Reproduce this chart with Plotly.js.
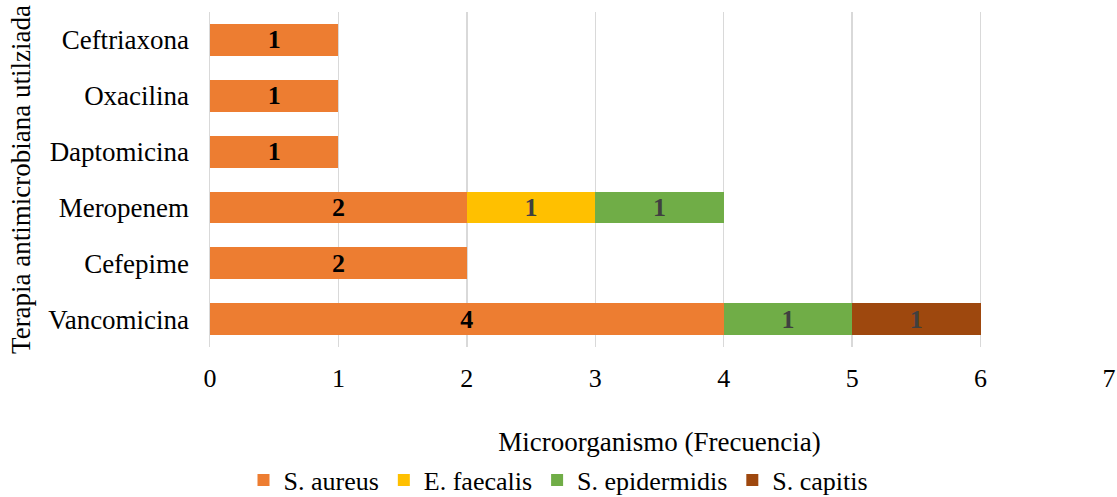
<!DOCTYPE html>
<html>
<head>
<meta charset="utf-8">
<script src="https://cdn.plot.ly/plotly-3.0.1.min.js"></script>
<style>
  html, body { margin: 0; padding: 0; background: #ffffff; }
  #chart { width: 1117px; height: 497px; }
</style>
</head>
<body>
<div id="chart"></div>
<script>
// Antibiotic therapies, listed bottom to top
const therapies = ["Vancomicina", "Cefepime", "Meropenem", "Daptomicina", "Oxacilina", "Ceftriaxona"];

// Frequency of each microorganism per therapy (null = not present)
const sAureus      = [4, 2, 2, 1, 1, 1];
const eFaecalis    = [null, null, 1, null, null, null];
const sEpidermidis = [1, null, 1, null, null, null];
const sCapitis     = [1, null, null, null, null, null];

const seriesNames  = ["S. aureus", "E. faecalis", "S. epidermidis", "S. capitis"];
const seriesColors = ["#ED7D31", "#FFC000", "#70AD47", "#9E480E"];
const labelColors  = ["#000000", "#404040", "#404040", "#404040"];
const seriesValues = [sAureus, eFaecalis, sEpidermidis, sCapitis];

const FONT = "Liberation Serif, Times New Roman, serif";

const traces = seriesValues.map((vals, i) => ({
  type: "bar",
  orientation: "h",
  name: seriesNames[i],
  y: therapies,
  x: vals,
  marker: { color: seriesColors[i], line: { width: 0 } },
  texttemplate: "<b>%{x}</b>",
  textposition: "inside",
  insidetextanchor: "middle",
  textangle: 0,
  constraintext: "none",
  textfont: { family: FONT, size: 26, color: labelColors[i] },
  hoverinfo: "skip"
}));

const layout = {
  width: 1117,
  height: 497,
  barmode: "stack",
  bargap: 0.43,
  paper_bgcolor: "#ffffff",
  plot_bgcolor: "#ffffff",
  margin: { l: 210, r: 8, t: 12, b: 150, autoexpand: false },
  font: { family: FONT, size: 26, color: "#000000" },
  xaxis: {
    range: [0, 7],
    dtick: 1,
    tick0: 0,
    showgrid: true,
    gridcolor: "#d9d9d9",
    gridwidth: 1.5,
    zeroline: false,
    showline: false,
    ticks: "outside",
    ticklen: 8,
    tickcolor: "rgba(0,0,0,0)",
    tickfont: { family: FONT, size: 26, color: "#000000" },
    title: {
      text: "Microorganismo (Frecuencia)",
      font: { family: FONT, size: 27, color: "#000000" },
      standoff: 40
    },
    fixedrange: true
  },
  yaxis: {
    type: "category",
    categoryorder: "array",
    categoryarray: therapies,
    showgrid: false,
    zeroline: false,
    showline: true,
    linecolor: "#d9d9d9",
    linewidth: 1.5,
    ticks: "outside",
    ticklen: 14,
    tickcolor: "rgba(0,0,0,0)",
    tickfont: { family: FONT, size: 27, color: "#000000" },
    title: {
      text: "Terapia antimicrobiana utilziada",
      font: { family: FONT, size: 27, color: "#000000" },
      standoff: 9
    },
    fixedrange: true
  },
  showlegend: true,
  legend: {
    orientation: "h",
    xref: "container",
    yref: "container",
    x: 0.5,
    xanchor: "center",
    y: 0.034,
    yanchor: "middle",
    font: { family: FONT, size: 26, color: "#000000" },
    traceorder: "normal",
    itemwidth: 30,
    tracegroupgap: 0
  },
  hovermode: false
};

Plotly.newPlot("chart", traces, layout, { displayModeBar: false, staticPlot: true });
</script>
</body>
</html>
